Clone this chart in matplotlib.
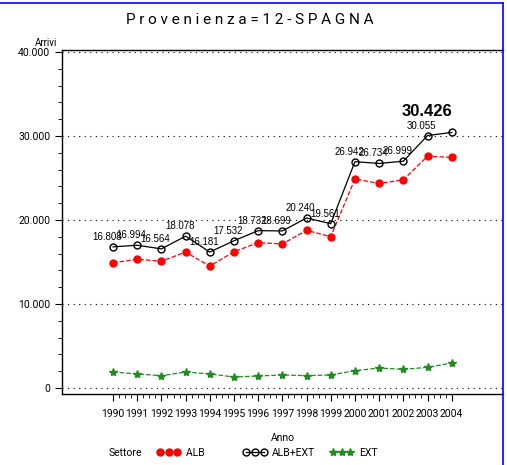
import numpy as np
import matplotlib.pyplot as plt
from matplotlib.lines import Line2D
from matplotlib.ticker import FuncFormatter, MultipleLocator

# Arrivi da Spagna, 1990-2004
anni = list(range(1990, 2005))
alb_ext = [16808, 16994, 16564, 18078, 16181, 17532, 18732, 18699,
           20240, 19561, 26942, 26734, 26999, 30055, 30426]
ext = [1900, 1670, 1470, 1900, 1670, 1310, 1430, 1550,
       1470, 1550, 2060, 2380, 2220, 2460, 2980]
alb = [t - e for t, e in zip(alb_ext, ext)]

plt.rcParams['font.family'] = ['Roboto', 'DejaVu Sans']

fig = plt.figure(figsize=(5.07, 4.65), dpi=100)
ax = fig.add_axes([62/507, 1 - 394/465, 441/507, 344/465])

ax.plot(anni, alb, color='red', ls='--', lw=0.9, marker='o', ms=5,
        mfc='red', mec='red', label='ALB')
ax.plot(anni, alb_ext, color='black', ls='-', lw=0.9, marker='o', ms=5,
        mfc='none', mec='black', label='ALB+EXT')
ax.plot(anni, ext, color='forestgreen', ls='--', lw=0.9, marker='*', ms=6,
        mfc='forestgreen', mec='forestgreen', label='EXT')

fmt = lambda v: f"{v:,.0f}".replace(',', '.')
for x, y in zip(anni, alb_ext):
    if x == 2004:
        ax.annotate(fmt(y), (x, y), xytext=(-25, 16), textcoords='offset pixels',
                    ha='center', fontsize=12, fontweight='bold',
                    family='Liberation Sans')
    else:
        ax.annotate(fmt(y), (x, y), xytext=(-6, 7), textcoords='offset pixels',
                    ha='center', fontsize=7, family='Liberation Sans')

ax.set_xlim(1987.89, 2006.12)
ax.set_ylim(-714, 40238)
ax.set_xticks(anni)
ax.set_xticks([a + d for a in anni[:-1] for d in (0.25, 0.5, 0.75)], minor=True)
ax.yaxis.set_major_locator(MultipleLocator(10000))
ax.yaxis.set_minor_locator(MultipleLocator(2000))
ax.yaxis.set_major_formatter(FuncFormatter(lambda v, p: fmt(v)))
ax.tick_params(axis='both', which='major', labelsize=7.5, length=5, width=0.8)
ax.tick_params(axis='both', which='minor', length=3, width=0.6)
ax.tick_params(axis='x', pad=6)

for v in range(0, 40001, 10000):
    ax.axhline(v, color='black', ls=(0, (1, 4)), lw=0.8)

ax.spines['right'].set_visible(False)
for s in ('left', 'bottom', 'top'):
    ax.spines[s].set_linewidth(1.0)

ax.set_xlabel('Anno', fontsize=7.5, labelpad=10)
fig.text(57/507, 1 - 48/465, 'Arrivi', fontsize=7, ha='right', va='bottom')
fig.text(250/507, 1 - 27/465, 'P r o v e n i e n z a = 1 2 - S P A G N A',
         fontsize=11, ha='center', va='bottom')

# borders of the original screenshot
fig.add_artist(Line2D([503/507, 503/507], [0, 1 - 3/465], color='blue', lw=1.2))
fig.add_artist(Line2D([0, 503/507], [1 - 3/465, 1 - 3/465], color='blue', lw=1.2))

blank = Line2D([], [], color='none')
h, l = ax.get_legend_handles_labels()
l[0] = l[0] + '         '
fig.legend([blank] + h, ['Settore'] + l, loc='lower left',
           bbox_to_anchor=(70/507, -0.005), ncol=4, frameon=False, fontsize=7.5,
           numpoints=3, handlelength=2.3, handletextpad=0.5, columnspacing=1.4)

fig.savefig('out.png', dpi=100)
